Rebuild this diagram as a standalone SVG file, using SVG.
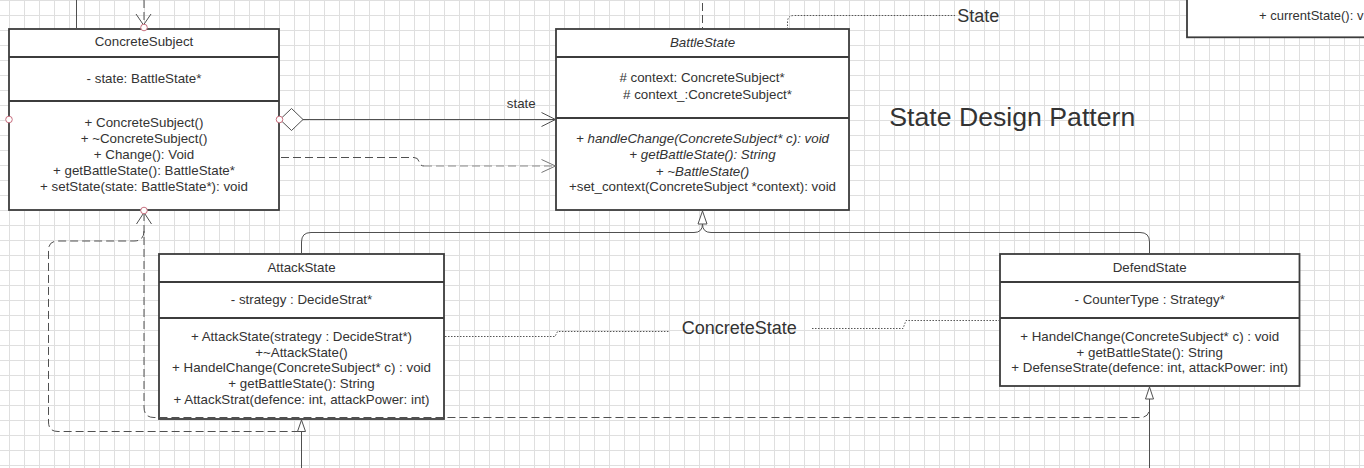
<svg xmlns="http://www.w3.org/2000/svg" width="1364" height="468" viewBox="0 0 1364 468">
<style>
.t{font-family:"Liberation Sans",Arial,sans-serif;font-size:13.33px;fill:#333;text-anchor:middle}
.i{font-style:italic}
.big{font-family:"Liberation Sans",Arial,sans-serif;fill:#333}
.box{fill:#fff;stroke:#3c3c3c;stroke-width:1.8}
.div{stroke:#3c3c3c;stroke-width:1.8}
.ln{fill:none;stroke:#505050;stroke-width:1}
.dash{fill:none;stroke:#505050;stroke-width:1;stroke-dasharray:8 4}
.dashl{fill:none;stroke:#8a8a8a;stroke-width:1;stroke-dasharray:8 4}
.dot{fill:none;stroke:#555;stroke-width:1;stroke-dasharray:1.5 1.5}
.head{fill:none;stroke:#505050;stroke-width:1}
.tri{fill:#fff;stroke:#505050;stroke-width:1}
.pt{fill:#fff;stroke:#c8707f;stroke-width:1}
</style>
<defs>
<pattern id="grid" x="9" y="0" width="15" height="15" patternUnits="userSpaceOnUse">
<path d="M0.5 0V15M0 0.5H15" stroke="#dfdfdf" stroke-width="1" fill="none"/>
</pattern>
</defs>
<rect width="1364" height="468" fill="#fff"/>
<rect width="1364" height="468" fill="url(#grid)"/>

<g id="topRightBox">
<rect class="box" x="1187" y="-10" width="200" height="47.3"/>
<text class="t" x="1259" y="20" style="text-anchor:start;font-size:13px">+ currentState(): v</text>
</g>

<g id="ConcreteSubject">
<rect class="box" x="9" y="29" width="270" height="181"/>
<line class="div" x1="9" y1="57" x2="279" y2="57"/>
<line class="div" x1="9" y1="101" x2="279" y2="101"/>
<text class="t" x="144" y="46">ConcreteSubject</text>
<text class="t" x="144" y="83">- state: BattleState*</text>
<text class="t" x="144" y="127">+ ConcreteSubject()</text>
<text class="t" x="144" y="143">+ ~ConcreteSubject()</text>
<text class="t" x="144" y="159">+ Change(): Void</text>
<text class="t" x="144" y="175">+ getBattleState(): BattleState*</text>
<text class="t" x="144" y="191">+ setState(state: BattleState*): void</text>
</g>

<g id="BattleState">
<rect class="box" x="556" y="29" width="293" height="181"/>
<line class="div" x1="556" y1="57" x2="849" y2="57"/>
<line class="div" x1="556" y1="118" x2="849" y2="118"/>
<text class="t i" x="702.5" y="46.5">BattleState</text>
<text class="t" x="702" y="82">#  context: ConcreteSubject*</text>
<text class="t" x="707.5" y="99">#  context_:ConcreteSubject*</text>
<text class="t i" x="702.5" y="142.5">+ handleChange(ConcreteSubject* c): void</text>
<text class="t i" x="702.5" y="159">+ getBattleState(): String</text>
<text class="t i" x="702.5" y="175.5">+ ~BattleState()</text>
<text class="t" x="702.5" y="191">+set_context(ConcreteSubject *context): void</text>
</g>

<g id="AttackState">
<rect class="box" x="159" y="254" width="285" height="165"/>
<line class="div" x1="159" y1="282" x2="444" y2="282"/>
<line class="div" x1="159" y1="318" x2="444" y2="318"/>
<text class="t" x="301.5" y="271.5">AttackState</text>
<text class="t" x="301.5" y="303.5">- strategy : DecideStrat*</text>
<text class="t" x="301.5" y="340.5">+ AttackState(strategy : DecideStrat*)</text>
<text class="t" x="301.5" y="356.5">+~AttackState()</text>
<text class="t" x="301.5" y="372">+ HandelChange(ConcreteSubject* c) : void</text>
<text class="t" x="301.5" y="388">+ getBattleState(): String</text>
<text class="t" x="301.5" y="404">+ AttackStrat(defence: int, attackPower: int)</text>
</g>

<g id="DefendState">
<rect class="box" x="1000" y="254" width="299.5" height="132"/>
<line class="div" x1="1000" y1="282" x2="1299.5" y2="282"/>
<line class="div" x1="1000" y1="318" x2="1299.5" y2="318"/>
<text class="t" x="1149.7" y="271.5">DefendState</text>
<text class="t" x="1149.7" y="304">- CounterType : Strategy*</text>
<text class="t" x="1149.7" y="340.5">+ HandelChange(ConcreteSubject* c) : void</text>
<text class="t" x="1149.7" y="356.5">+ getBattleState(): String</text>
<text class="t" x="1149.7" y="372">+ DefenseStrate(defence: int, attackPower: int)</text>
</g>

<g id="labels">
<text class="big" x="889.3" y="126" font-size="26.67">State Design Pattern</text>
<text class="big" x="957.3" y="21.5" font-size="18">State</text>
<text class="big" x="681.7" y="334" font-size="18">ConcreteState</text>
<text class="t" x="535.7" y="108" style="text-anchor:end">state</text>
</g>

<g id="connectors">
<path class="ln" d="M76.5 0V29"/>
<path class="dash" d="M144 0V25"/>
<path class="head" d="M136 14L143.5 25L151 14"/>
<path class="ln" d="M303 119.5H555"/>
<path class="tri" d="M280 119.5L291.5 108.5L303 119.5L291.5 130.5Z"/>
<path class="head" d="M541.5 112.5L555.5 119.5L541.5 126.5"/>
<path class="dash" d="M281 157.5H414Q418 157.5 419 161.5Q420 166 424 166"/>
<path class="dashl" d="M424 166H555"/>
<path class="head" d="M541.5 159.5L555.5 166L541.5 172.5" style="stroke:#777"/>
<path class="dash" d="M702.5 3V29"/>
<path class="dot" d="M787.5 29V22Q787.5 15.5 794 15.5H955"/>
<path class="ln" d="M301.5 254V242Q301.5 232.5 311 232.5H694Q702.5 232.5 702.5 224"/>
<path class="ln" d="M1149.5 254V242Q1149.5 232.5 1140 232.5H711Q702.5 232.5 702.5 224"/>
<path class="tri" d="M702.5 211L707 224L698 224Z"/>
<path class="dot" d="M445 336.5H555L557.5 331.5H669"/>
<path class="dot" d="M812 328.5H903L906 320.5H1000"/>
<path class="head" d="M136.5 224L144 212.5L151.5 224"/>
<path class="dash" d="M144 213V407Q144 417.5 154 417.5H1140Q1149.5 417.5 1149.5 408V399"/>
<path class="dash" d="M144 231Q144 241 134 241H58Q48.5 241 48.5 250V422Q48.5 431.5 58 431.5H301.5"/>
<path class="ln" d="M301.5 431.5V468"/>
<path class="tri" d="M301.5 420L305.5 431.5L297.5 431.5Z"/>
<path class="ln" d="M1149.5 399V468"/>
<path class="tri" d="M1149.5 387L1153.5 399L1145.5 399Z"/>
<circle class="pt" cx="144" cy="27.5" r="3.3"/>
<circle class="pt" cx="9" cy="119.5" r="3.3"/>
<circle class="pt" cx="279.5" cy="119.5" r="3.3"/>
<circle class="pt" cx="144" cy="210.5" r="3.3"/>
</g>
</svg>
